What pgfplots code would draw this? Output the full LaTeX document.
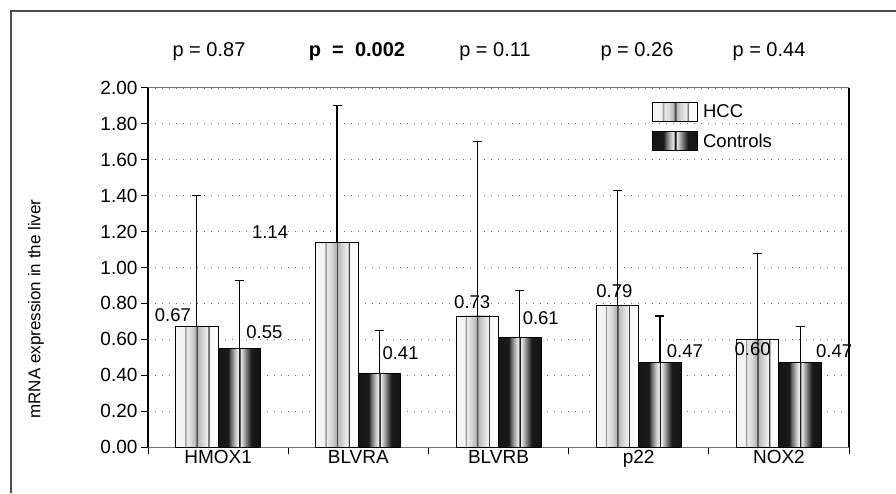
\documentclass[border=0pt]{standalone}
\usepackage{fontspec}
\setmainfont{Liberation Sans}
\usepackage{pgfplots}
\pgfplotsset{compat=1.18}
\usepackage{pgfplotstable}

\pgfdeclarehorizontalshading{hccshade}{100bp}{color(0bp)=(black!3); color(25bp)=(black!3); color(35.5bp)=(black!5); color(36bp)=(black!40); color(37bp)=(black!40); color(37.5bp)=(black!8); color(42.5bp)=(black!14); color(48.8bp)=(black!30); color(49.2bp)=(black!70); color(50.6bp)=(black!70); color(51bp)=(black!28); color(57.5bp)=(black!15); color(62.8bp)=(black!5); color(63.2bp)=(black!75); color(64.2bp)=(black!75); color(64.6bp)=(black!3); color(75bp)=(white); color(100bp)=(white)}
\pgfdeclarehorizontalshading{ctrlshade}{100bp}{color(0bp)=(black!92); color(25bp)=(black!92); color(37bp)=(black!90); color(40bp)=(black!60); color(45bp)=(black!25); color(48.8bp)=(black!5); color(49.2bp)=(black!90); color(50.8bp)=(black!90); color(51.2bp)=(black!5); color(55bp)=(black!30); color(60bp)=(black!65); color(64bp)=(black!90); color(75bp)=(black!92); color(100bp)=(black!92)}

\pgfplotstableread{
x y err dx dy
0 0.67 0.73 -24 12
1 1.14 0.76 -67 10
2 0.73 0.97 -5 14
3 0.79 0.64 -3 14
4 0.60 0.48 -5 -10
}\hcc
\pgfplotstableread{
x y err dx dy
0 0.55 0.38 25 16
1 0.41 0.24 21 20
2 0.61 0.26 21 19
3 0.47 0.26 25 12
4 0.47 0.20 34 12
}\ctrl

\pgfplotsset{
  hccbar/.style={ybar, bar width=42.5pt, bar shift=0pt, draw=black, line width=0.9pt, shading=hccshade},
  ctrlbar/.style={ybar, bar width=42.5pt, bar shift=0pt, draw=black, line width=0.9pt, shading=ctrlshade},
}

\begin{document}
\begin{tikzpicture}
\useasboundingbox (0pt,0pt) rectangle (896pt,493pt);
\draw[black!70, line width=1.3pt] (11pt,0pt) -- (11pt,482pt) -- (896pt,482pt);
\begin{axis}[
  at={(148pt,46pt)}, anchor=south west,
  scale only axis, width=701pt, height=359pt,
  xmin=-0.5, xmax=4.5, ymin=0, ymax=2,
  legend image code/.code={\draw[#1] (0pt,-9.5pt) rectangle (45pt,9.5pt);},
  /pgf/number format/assume math mode=true,
  separate axis lines,
  x axis line style={black!55, line width=1pt},
  y axis line style={black, line width=1.2pt},
  tick align=outside, xtick pos=bottom, ytick pos=left,
  major tick length=7pt,
  tick style={black, line width=1pt},
  xtick={-0.5,0.5,1.5,2.5,3.5,4.5}, xticklabels={},
  extra x ticks={0,1,2,3,4},
  extra x tick labels={HMOX1,BLVRA,BLVRB,p22,NOX2},
  extra x tick style={major tick length=0pt, grid=none},
  ytick={0,0.2,0.4,0.6,0.8,1.0,1.2,1.4,1.6,1.8,2.0},
  yticklabel style={/pgf/number format/.cd, fixed, fixed zerofill, precision=2},
  ymajorgrids,
  grid style={black!55, line width=0.8pt, dash pattern=on 1pt off 6pt},
  ticklabel style={font=\fontsize{19}{20}\selectfont},
  legend style={draw=none, fill=none, at={(0.719,0.961)}, anchor=north west,
    inner sep=0pt, row sep=9pt, column sep=3pt, font=\fontsize{18.5}{20}\selectfont},
  legend cell align=left,
  nodes near coords={\pgfmathprintnumber[fixed,fixed zerofill,precision=2]{\pgfplotspointmeta}},
  nodes near coords style={font=\fontsize{18.5}{20}\selectfont, anchor=center, xshift=\dx pt, yshift=\dy pt},
  visualization depends on={\thisrow{dx} \as \dx},
  visualization depends on={\thisrow{dy} \as \dy},
  error bars/y dir=plus, error bars/y explicit,
  error bars/error bar style={black, line width=1.1pt},
  error bars/error mark options={black, line width=1.1pt, mark size=4.5pt, rotate=90},
]
\addlegendimage{draw=black, line width=0.9pt, shading=hccshade}
\addlegendentry{HCC}
\addlegendimage{draw=black, line width=0.9pt, shading=ctrlshade}
\addlegendentry{Controls}
\pgfplotsinvokeforeach{0,1,2,3,4}{
  \addplot[hccbar, forget plot, x filter/.expression={abs(x-#1)<0.4 ? x : nan}]
    table[x expr=\thisrow{x}-0.1516, y=y, y error=err] {\hcc};
  \addplot[ctrlbar, forget plot, x filter/.expression={abs(x-#1)<0.4 ? x : nan}]
    table[x expr=\thisrow{x}+0.1516, y=y, y error=err] {\ctrl};
}
\end{axis}
\begin{scope}[every node/.style={font=\fontsize{20}{22}\selectfont}]
\node at (209pt,441pt) {p = 0.87};
\node at (357pt,441pt) {\bfseries p\ \ =\ \ 0.002};
\node at (495pt,441pt) {p = 0.11};
\node at (637pt,441pt) {p = 0.26};
\node at (769pt,441pt) {p = 0.44};
\node[rotate=90, font=\fontsize{17}{20}\selectfont] at (36pt,184pt) {mRNA expression in the liver};
\end{scope}
\end{tikzpicture}
\end{document}
